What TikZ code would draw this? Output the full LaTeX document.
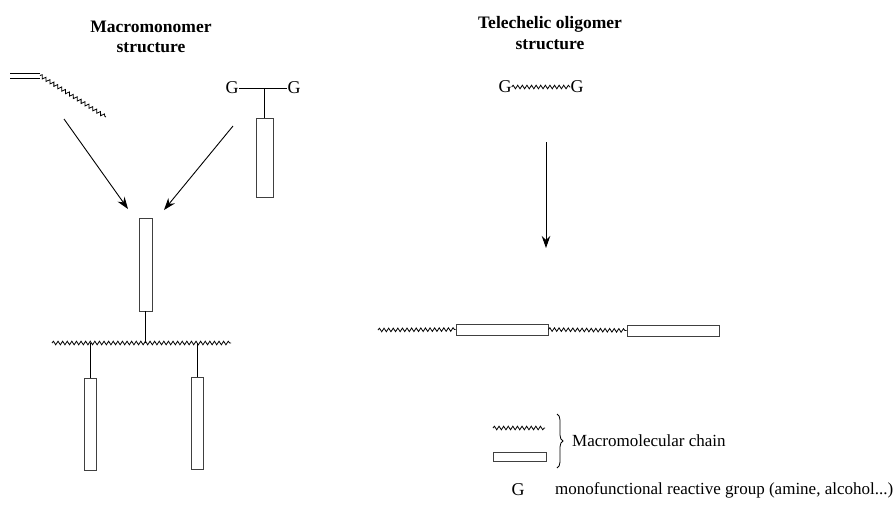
\documentclass[tikz,border=0pt]{standalone}
\usepackage{fontspec}
\setmainfont{Liberation Serif}
\usetikzlibrary{decorations.pathmorphing,decorations.pathreplacing,arrows.meta}

\begin{document}
\begin{tikzpicture}[x=1pt,y=-1pt,
  chain/.style={decorate,decoration={snake,segment length=4.6pt,amplitude=1.8pt},line width=0.8pt},
  block/.style={draw=black!75,line width=0.8pt,fill=white,inner sep=0pt,rectangle},
  bond/.style={line width=0.8pt},
  arr/.style={line width=0.9pt,-{Stealth[length=12pt,width=8.5pt]}},
  lbl/.style={font=\fontsize{17}{20}\selectfont,inner sep=0pt},
  grp/.style={font=\fontsize{18}{20}\selectfont,inner sep=0pt},
  ttl/.style={font=\fontsize{17.5}{20}\selectfont\bfseries,inner sep=0pt,anchor=base}]
\useasboundingbox (0,0) rectangle (895,504);

% titles
\node[ttl] (t1a) at (151,32) {Macromonomer};
\node[ttl] (t1b) at (151,52) {structure};
\node[ttl] (t2a) at (550,28) {Telechelic oligomer};
\node[ttl] (t2b) at (550,49) {structure};

% ---- macromonomer route ----
% unsaturated end group with its chain
\coordinate (d1a) at (10,73);
\coordinate (d1b) at (40,73);
\coordinate (d2a) at (10,78);
\coordinate (d2b) at (40,78);
\coordinate (w1a) at (40,75.5);
\coordinate (w1b) at (106,117);
\draw[bond] (d1a) -- (d1b);
\draw[bond] (d2a) -- (d2b);
\draw[chain] (w1a) -- (w1b);

% difunctional branch point carrying a block
\node[grp] (g1) at (232,88) {G};
\node[grp] (g2) at (294,88) {G};
\coordinate (j1) at (264.5,88);
\node[block,minimum width=17pt,minimum height=79pt] (r1) at (264.5,157.5) {};
\draw[bond] (g1.east) -- (g2.west);
\draw[bond] (j1) -- (r1.north);

% arrows towards the macromonomer
\coordinate (a1s) at (64,119);
\coordinate (a1e) at (128,209);
\coordinate (a2s) at (233,126);
\coordinate (a2e) at (164,210);
\draw[arr] (a1s) -- (a1e);
\draw[arr] (a2s) -- (a2e);

% grafted product
\node[block,minimum width=13pt,minimum height=93pt] (r2) at (145.5,264.5) {};
\coordinate (j2) at (145.5,343);
\coordinate (wba) at (52,343);
\coordinate (wbb) at (231,343);
\coordinate (j3) at (90,343);
\coordinate (j4) at (197.5,343);
\draw[chain] (wba) -- (wbb);
\draw[bond] (r2.south) -- (j2);
\node[block,minimum width=12pt,minimum height=92pt] (r3) at (90,424) {};
\node[block,minimum width=12pt,minimum height=92pt] (r4) at (197.5,423) {};
\draw[bond] (j3) -- (r3.north);
\draw[bond] (j4) -- (r4.north);

% ---- telechelic route ----
\node[grp] (g3) at (505,87) {G};
\node[grp] (g4) at (577,87) {G};
\draw[chain] (g3.east) -- (g4.west);

\coordinate (a3s) at (546,142);
\coordinate (a3e) at (546,248);
\draw[arr] (a3s) -- (a3e);

% multiblock product
\coordinate (w5a) at (378,330);
\node[block,minimum width=92pt,minimum height=11pt] (r5) at (502,329.5) {};
\node[block,minimum width=92pt,minimum height=11pt] (r6) at (673,330.5) {};
\draw[chain] (w5a) -- (r5.west);
\draw[chain] (r5.east) -- (r6.west);

% ---- legend ----
\coordinate (lwa) at (493,428);
\coordinate (lwb) at (545,428);
\draw[chain] (lwa) -- (lwb);
\node[block,minimum width=53pt,minimum height=9pt] (r7) at (519.5,456.5) {};
\coordinate (bra) at (557,414);
\coordinate (brb) at (557,468);
\draw[line width=0.8pt,decorate,decoration={brace,amplitude=6pt}] (bra) -- (brb);
\node[lbl,anchor=west] (lt1) at (572,441) {Macromolecular chain};
\node[grp] (lg) at (518,490) {G};
\node[lbl,anchor=west] (lt2) at (555,490) {monofunctional reactive group (amine, alcohol...)};
\end{tikzpicture}
\end{document}
